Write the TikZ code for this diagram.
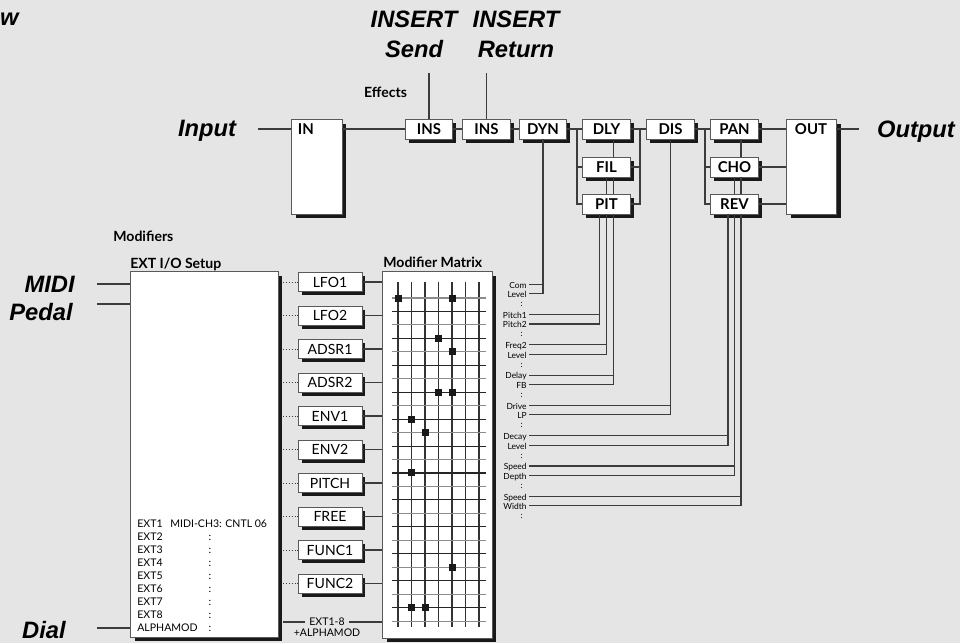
\documentclass[tikz,border=0pt]{standalone}
\usepackage{fontspec}
\usepackage{xcolor}
\usepackage{tikz}
\usetikzlibrary{shadows, positioning}
\newfontfamily\gill{Lato}
\newfontfamily\helv{Liberation Sans}
\definecolor{panelgray}{HTML}{E5E5E5}
\definecolor{wirecol}{HTML}{3C3C3C}

\tikzset{
  wire/.style={draw=wirecol, line width=0.6pt},
  bigtitle/.style={font=\helv\bfseries\itshape\fontsize{13.5}{16}\selectfont, inner sep=0pt},
  fxbox/.style={draw=black!65, fill=white, line width=0.5pt, minimum width=0.95cm,
    minimum height=0.4cm, inner sep=0pt, font=\gill\bfseries\fontsize{8.5}{9}\selectfont,
    drop shadow={shadow xshift=0.07cm, shadow yshift=-0.07cm, fill=black!90, opacity=1}},
  modbox/.style={fxbox, minimum width=1.28cm, minimum height=0.38cm, font=\gill\fontsize{8}{9}\selectfont},
  panel/.style={draw=black!65, fill=white, line width=0.5pt, inner sep=0pt,
    drop shadow={shadow xshift=0.09cm, shadow yshift=-0.09cm, fill=black!90, opacity=1}},
  head/.style={font=\gill\bfseries\fontsize{8}{9}\selectfont, inner sep=0pt},
  tinylab/.style={font=\gill\fontsize{4.8}{5}\selectfont, inner sep=0pt},
  extfont/.style={font=\gill\fontsize{6}{7}\selectfont, inner sep=0pt},
}

\begin{document}
\begin{tikzpicture}[x=0.02cm, y=-0.02cm]
  \fill[panelgray] (0,0) rectangle (960,643);
  \useasboundingbox (0,0) rectangle (960,643);

  % titles
  \node[bigtitle, anchor=base east] (w) at (19,25) {w};
  \node[bigtitle, anchor=base] (send1) at (414,27) {INSERT};
  \node[bigtitle, anchor=base] (send2) at (414,57) {Send};
  \node[bigtitle, anchor=base] (ret1) at (516,27) {INSERT};
  \node[bigtitle, anchor=base] (ret2) at (516,57) {Return};
  \node[head, anchor=base] (effects) at (385.5,97) {Effects};
  \node[bigtitle, anchor=base] (input) at (207,136) {Input};
  \node[bigtitle, anchor=base] (output) at (916,137) {Output};

  % effects chain
  \node[panel, minimum width=1.02cm, minimum height=1.9cm] (IN) at (316.5,166.5) {};
  \node[head, font=\gill\bfseries\fontsize{8.5}{9}\selectfont, anchor=north west] (INlab) at ([xshift=0.14cm,yshift=-0.1cm]IN.north west) {IN};
  \node[fxbox] (INS1) at (429,129) {INS};
  \node[fxbox] (INS2) at (486.5,129) {INS};
  \node[fxbox] (DYN) at (543,129) {DYN};
  \node[fxbox] (DLY) at (606.5,129) {DLY};
  \node[fxbox] (FIL) at (606.5,167) {FIL};
  \node[fxbox] (PIT) at (606.5,204) {PIT};
  \node[fxbox] (DIS) at (670.5,129) {DIS};
  \node[fxbox] (PAN) at (734.5,129) {PAN};
  \node[fxbox] (CHO) at (734.5,167) {CHO};
  \node[fxbox] (REV) at (734.5,204) {REV};
  \node[panel, minimum width=1.0cm, minimum height=1.9cm] (OUT) at (811,166.5) {};
  \node[head, font=\gill\bfseries\fontsize{8.5}{9}\selectfont, anchor=north] (OUTlab) at ([yshift=-0.09cm]OUT.north) {OUT};

  \coordinate (inL) at (258,129);
  \coordinate (outR) at (859,129);
  \coordinate (sendT) at (429,73);
  \coordinate (retT) at (486.5,73);
  \coordinate (jA) at (577,129);
  \coordinate (jB) at (640,129);
  \coordinate (jC) at (705,129);

  \draw[wire] (inL) -- (inL -| IN.west);
  \draw[wire] (IN.east |- INS1) -- (INS1.west);
  \draw[wire] (INS1) -- (INS2);
  \draw[wire] (INS2) -- (DYN);
  \draw[wire] (sendT) -- (INS1);
  \draw[wire] (retT) -- (INS2);
  \draw[wire] (DYN) -- (DLY);
  \draw[wire] (jA) |- (FIL.west);
  \draw[wire] (jA) |- (PIT.west);
  \draw[wire] (DLY) -- (DIS);
  \draw[wire] (jB) |- (FIL.east);
  \draw[wire] (jB) |- (PIT.east);
  \draw[wire] (DIS) -- (PAN);
  \draw[wire] (jC) |- (CHO.west);
  \draw[wire] (jC) |- (REV.west);
  \draw[wire] (PAN) -- (PAN -| OUT.west);
  \draw[wire] (CHO) -- (CHO -| OUT.west);
  \draw[wire] (REV) -- (REV -| OUT.west);
  \draw[wire] (OUT.east |- PAN) -- (outR);

  % parameter busses
  \draw[wire] ([xshift=0.14cm]DLY.south) -- ([xshift=0.14cm]FIL.north);
  \draw[wire] ([xshift=0.14cm]FIL.south) -- ([xshift=0.14cm]PIT.north);
  \draw[wire] (FIL.south) -- (PIT.north);
  \draw[wire] ([xshift=0.13cm]PAN.south) -- ([xshift=0.13cm]CHO.north);
  \draw[wire] ([xshift=0.13cm]CHO.south) -- ([xshift=0.13cm]REV.north);
  \draw[wire] (CHO.south) -- (REV.north);
  \coordinate (bDYN) at (DYN.south);
  \coordinate (bPIT) at ([xshift=-0.14cm]PIT.south);
  \coordinate (bFIL) at (PIT.south);
  \coordinate (bDLY) at ([xshift=0.14cm]PIT.south);
  \coordinate (bDIS) at (DIS.south);
  \coordinate (bREV) at ([xshift=-0.13cm]REV.south);
  \coordinate (bCHO) at (REV.south);
  \coordinate (bPAN) at ([xshift=0.13cm]REV.south);

  \foreach \a/\b/\bus [count=\i from 0] in {Com/Level/bDYN, Pitch1/Pitch2/bPIT,
      Freq2/Level/bFIL, Delay/FB/bDLY, Drive/LP/bDIS, Decay/Level/bREV,
      Speed/Depth/bCHO, Speed/Width/bPAN}{
    \node[tinylab, anchor=base east] (pa\i) at (527,288+30.3*\i) {\a};
    \node[tinylab, anchor=base east] (pb\i) at (527,297.5+30.3*\i) {\b};
    \node[tinylab, anchor=base east] (pc\i) at (523,306.5+30.3*\i) {:};
    \draw[wire] (\bus) |- ([xshift=0.04cm]pb\i.mid east);
    \draw[wire] ([xshift=0.04cm]pa\i.mid east) -- (pa\i.mid east -| \bus);
  }

  % modifiers
  \node[head, anchor=base west] (modlab) at (113,241) {Modifiers};
  \node[panel, minimum width=2.96cm, minimum height=7.32cm] (EXT) at (204,454) {};
  \node[head, anchor=base west] (EXTlab) at (130,268) {EXT I/O Setup};
  \node[panel, minimum width=2.2cm, minimum height=7.34cm] (MX) at (437,454.5) {};
  \node[head, anchor=base west] (MXlab) at (383,267) {Modifier Matrix};

  \node[bigtitle, anchor=base east] (midi) at (75,292) {MIDI};
  \node[bigtitle, anchor=base east] (pedal) at (73,320) {Pedal};
  \node[bigtitle, anchor=base east] (dial) at (66,638) {Dial};
  \coordinate (midiL) at (97,284);
  \coordinate (pedalL) at (97,304);
  \coordinate (dialL) at (97,628);
  \draw[wire] (midiL) -- (midiL -| EXT.west);
  \draw[wire] (pedalL) -- (pedalL -| EXT.west);
  \draw[wire] (dialL) -- (dialL -| EXT.west);

  \foreach \e [count=\i from 0] in {EXT1,EXT2,EXT3,EXT4,EXT5,EXT6,EXT7,EXT8,ALPHAMOD}
    \node[extfont, anchor=base west] (e\i) at (137,527+13*\i) {\e};
  \foreach \i in {1,...,8}
    \node[extfont, anchor=base] (c\i) at (210,527+13*\i) {:};
  \node[extfont, anchor=base west] (midich) at (170,527) {MIDI-CH3: CNTL 06};

  \foreach \m [count=\i from 0] in {LFO1,LFO2,ADSR1,ADSR2,ENV1,ENV2,PITCH,FREE,FUNC1,FUNC2}{
    \node[modbox] (m\i) at (330,282+33.5*\i) {\m};
    \draw[wire, densely dotted, line width=0.5pt] ([xshift=0.1cm]EXT.east |- m\i) -- (m\i.west);
    \draw[wire] (m\i) -- (m\i -| MX.west);
  }

  \node[extfont] (ext18) at (327,622) {EXT1-8};
  \node[extfont] (alpha) at (327,633) {+ALPHAMOD};
  \draw[wire] ([xshift=0.1cm]EXT.east |- ext18) -- ([xshift=-0.08cm]ext18.west);
  \draw[wire] ([xshift=0.08cm]ext18.east) -- (ext18 -| MX.west);

  % matrix grid
  \foreach \c in {0,...,6}
    \draw[black!80, line width=0.6pt] (398+13.5*\c,282) -- (398+13.5*\c,627);
  \foreach \r in {0,...,24}{
    \ifodd\r \def\gc{black!85}\else \def\gc{black!45}\fi
    \draw[\gc, line width=0.6pt] (392,298+13.46*\r) -- (486,298+13.46*\r);
  }
  \foreach \c/\r in {0/0,4/0,3/3,4/4,3/7,4/7,1/9,2/10,1/13,4/20,1/23,2/23}
    \fill[black!90] (398+13.5*\c,298+13.46*\r) +(-3.5,-3.5) rectangle +(3.5,3.5);
\end{tikzpicture}
\end{document}
